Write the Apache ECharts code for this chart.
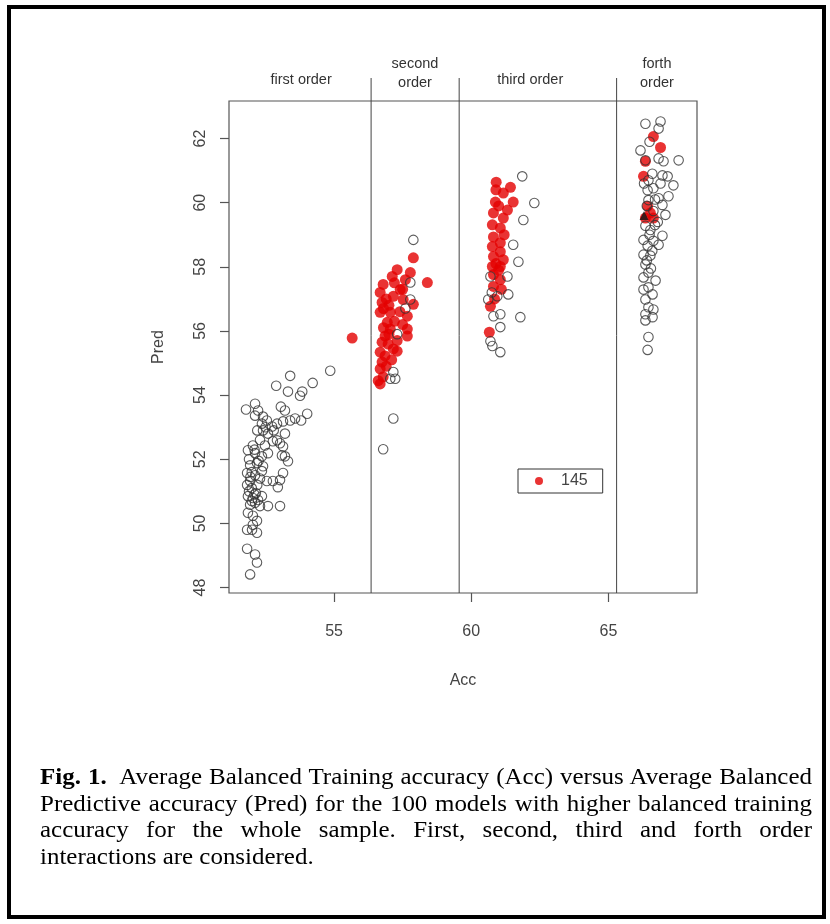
<!DOCTYPE html>
<html>
<head>
<meta charset="utf-8">
<script src="https://cdn.jsdelivr.net/npm/echarts@6/dist/echarts.min.js"></script>
<style>
  html, body { margin: 0; padding: 0; background: #fff; }
  #wrap { position: relative; width: 830px; height: 924px; }
  #chart { position: absolute; left: 0; top: 0; width: 830px; height: 924px; }
  #caption {
    position: absolute; left: 40px; top: 763px; width: 772px;
    font-family: "Liberation Serif", "Times New Roman", serif;
    font-size: 24px; line-height: 26.7px; color: #000;
    transform-origin: 0 0;
  }
  #caption div { text-align: justify; text-align-last: justify; white-space: nowrap; }
  #caption div.last { text-align-last: left; }
  #probe { position: absolute; visibility: hidden; white-space: nowrap;
    font-family: "Liberation Serif", "Times New Roman", serif; font-size: 24px; }
</style>
</head>
<body>
<div id="wrap">
  <div id="chart"></div>
  <div id="caption">
    <div><b>Fig. 1.</b>&nbsp; Average Balanced Training accuracy (Acc) versus Average Balanced</div>
    <div>Predictive accuracy (Pred) for the 100 models with higher balanced training</div>
    <div>accuracy for the whole sample. First, second, third and forth order</div>
    <div class="last">interactions are considered.</div>
  </div>
  <span id="probe"></span>
</div>
<script>
// Axis ranges and ticks
const accRange = [51.17, 68.23];
const predRange = [47.83, 63.17];
const accTicks = [55, 60, 65];
const predTicks = [48, 50, 52, 54, 56, 58, 60, 62];

// Borders between interaction orders (Acc) and panel headings
const orderBreaks = [56.35, 59.56, 65.3];
const headerAcc = [53.8, 57.95, 62.15, 66.77];
const headerLabels = ['first order', 'second\norder', 'third order', 'forth\norder'];

// Models shown as open circles: [Acc, Pred]
const firstOrder = [
  [54.86,54.76],[53.40,54.60],[52.89,54.29],[53.32,54.11],[54.22,54.38],[53.84,54.11],[53.76,53.98],
  [53.06,53.64],[53.21,53.52],[51.79,53.55],[52.12,53.73],[52.23,53.52],[52.12,53.36],[54.02,53.42],
  [53.80,53.21],[53.58,53.27],[53.40,53.21],[53.14,53.18],[52.92,53.11],[52.41,53.33],[52.55,53.21],
  [52.37,53.11],[52.74,53.02],[52.41,52.90],[52.59,52.80],[53.21,52.80],[52.92,52.59],[52.77,52.56],
  [53.03,52.50],[52.48,52.43],[52.04,52.43],[51.86,52.28],[53.14,52.40],[53.10,52.12],[53.21,52.09],
  [53.32,51.94],[52.12,52.19],[52.37,52.09],[52.59,52.19],[51.94,51.81],[52.19,51.88],[52.41,51.78],
  [51.83,51.57],[52.12,51.50],[52.37,51.63],[53.14,51.57],[53.03,51.35],[52.77,51.32],[52.55,51.32],
  [51.94,51.32],[51.83,51.20],[52.95,51.13],[51.86,50.85],[52.04,50.79],[52.23,50.73],[52.37,50.85],
  [51.94,50.58],[52.12,50.64],[52.30,50.54],[52.59,50.54],[53.03,50.54],[51.86,50.33],[52.04,50.24],
  [52.04,49.96],[52.19,50.08],[51.83,49.80],[52.01,49.80],[52.19,49.71],[51.83,49.21],[52.12,49.03],
  [52.19,48.78],[51.94,48.41],[51.90,51.00],[52.00,51.10],[52.10,50.90],[52.20,51.20],[52.00,51.60],
  [52.30,51.40],[51.90,52.00],[52.10,52.30],[52.30,52.60],[52.20,52.90],[52.50,53.00],[52.80,52.90],
  [52.00,50.70],[52.15,50.95],[51.95,51.45],[52.25,51.95]
];
const secondOrder = [
  [57.89,58.84],[57.78,57.51],[57.78,56.98],[57.16,54.72],[57.23,54.51],[57.05,54.51],[57.16,53.27],
  [56.79,52.31],[57.60,56.70],[57.30,55.90]
];
const thirdOrder = [
  [61.86,60.82],[62.30,59.99],[61.90,59.46],[61.53,58.69],[61.72,58.16],[61.32,57.70],[61.35,57.14],
  [61.06,56.52],[61.79,56.43],[61.06,56.12],[60.70,55.68],[61.06,55.34],[60.77,55.53],[60.62,56.98],
  [60.95,57.08],[60.81,56.46],[60.70,57.70],[60.75,57.20]
];
const fourthOrder = [
  [66.35,62.46],[66.90,62.53],[66.83,62.31],[66.17,61.63],[66.83,61.38],[67.01,61.29],[67.56,61.32],
  [66.35,61.32],[66.97,60.85],[67.16,60.82],[66.46,60.70],[67.37,60.54],[66.64,60.45],[66.43,60.39],
  [67.19,60.20],[66.83,60.14],[66.97,59.93],[66.46,60.08],[67.08,59.62],[66.64,59.74],[66.35,59.28],
  [66.53,59.15],[66.97,58.97],[66.28,58.84],[66.64,58.81],[66.43,58.66],[66.83,58.69],[66.28,58.38],
  [66.53,58.35],[66.35,58.07],[66.46,57.82],[66.28,57.67],[66.72,57.57],[66.46,57.36],[66.28,57.29],
  [66.61,57.14],[66.35,56.98],[66.46,56.74],[66.64,56.67],[66.35,56.52],[66.61,56.43],[66.35,56.33],
  [66.46,55.81],[66.43,55.41],[66.50,61.90],[66.60,60.90],[66.40,59.90],[66.70,60.10],[66.50,59.00],
  [66.60,58.50],[66.40,58.20],[66.55,57.95],[66.70,59.30],[66.90,60.60],[66.30,60.60],[66.80,59.40]
];

// Models containing interaction 145: [Acc, Pred]
const secondOrder145 = [
  [57.89,58.28],[58.40,57.51],[57.78,57.82],[57.30,57.91],[57.12,57.70],[56.79,57.45],[56.68,57.20],
  [57.41,57.29],[57.16,57.08],[57.52,56.98],[57.89,56.83],[56.75,56.89],[56.68,56.58],[57.05,56.58],
  [57.67,56.46],[56.94,56.27],[57.67,56.06],[57.67,55.84],[56.86,55.84],[57.05,56.06],[56.75,55.65],
  [56.97,55.59],[57.16,55.44],[56.68,55.34],[56.86,55.22],[57.30,55.37],[56.75,55.03],[56.68,54.82],
  [56.79,54.57],[56.61,54.45],[56.68,54.35],[55.66,55.78],[56.90,57.00],[57.00,56.80],[57.20,56.30],
  [57.40,56.60],[57.50,57.30],[57.00,55.90],[56.80,56.10],[57.30,55.70],[56.90,54.90],[57.10,55.10],
  [57.60,57.60],[57.20,57.50],[56.80,56.70],[57.50,56.20]
];
const thirdOrder145 = [
  [60.91,60.64],[61.43,60.48],[61.17,60.30],[60.88,60.02],[61.53,60.02],[61.32,59.77],[60.81,59.68],
  [61.17,59.52],[60.77,59.31],[61.06,59.21],[60.81,58.93],[61.06,58.75],[60.77,58.63],[61.06,58.47],
  [60.81,58.32],[61.17,58.22],[60.77,58.01],[61.06,58.01],[60.81,57.76],[61.06,57.60],[60.81,57.39],
  [60.70,56.77],[60.66,55.96],[60.90,60.40],[61.00,59.90],[61.20,59.00],[60.90,58.10],[61.00,57.90],
  [60.85,57.00],[61.10,57.30]
];
const fourthOrder145 = [
  [66.64,62.06],[66.90,61.72],[66.35,61.29],[66.28,60.82],[66.43,59.89],[66.53,59.68],[66.64,59.52],
  [66.35,59.52]
];
// Highlighted single model
const markedModel = [[66.30, 59.60]];

// Caption: scale the serif text horizontally so the first line fills the column
(function fitCaption() {
  const cap = document.getElementById('caption');
  const probe = document.getElementById('probe');
  probe.innerHTML = cap.querySelector('div').innerHTML;
  const w = probe.getBoundingClientRect().width;
  if (w > 0) {
    const s = 764 / w;
    cap.style.width = (772 / s).toFixed(2) + 'px';
    cap.style.transform = 'scaleX(' + s.toFixed(4) + ')';
  }
  probe.innerHTML = '';
})();

const labelFont = '"Liberation Sans", Arial, Helvetica, sans-serif';
const chart = echarts.init(document.getElementById('chart'), null, { renderer: 'canvas' });

chart.setOption({
  animation: false,
  backgroundColor: '#fff',
  graphic: [{
    type: 'rect', z: 100, silent: true,
    shape: { x: 9, y: 7, width: 815, height: 910 },
    style: { fill: 'none', stroke: '#000', lineWidth: 4 }
  }],
  grid: {
    left: 229, top: 101, width: 468, height: 492,
    show: true, borderColor: '#555', borderWidth: 1.2, backgroundColor: 'transparent'
  },
  legend: {
    data: ['145'],
    left: 518, top: 469,
    icon: 'circle', itemWidth: 34, itemHeight: 8, itemGap: 0,
    padding: [4, 15, 4, 17],
    borderColor: '#333', borderWidth: 1,
    textStyle: { fontFamily: labelFont, fontSize: 16, color: '#444' }
  },
  xAxis: {
    type: 'value', min: accRange[0], max: accRange[1],
    name: 'Acc', nameLocation: 'middle', nameGap: 80,
    nameTextStyle: { fontFamily: labelFont, fontSize: 16, color: '#444' },
    axisLine: { show: false },
    axisTick: { show: true, length: 9, customValues: accTicks, lineStyle: { color: '#555', width: 1.2 } },
    axisLabel: { customValues: accTicks, margin: 31, fontFamily: labelFont, fontSize: 16, color: '#444' },
    splitLine: { show: false }
  },
  yAxis: {
    type: 'value', min: predRange[0], max: predRange[1],
    name: 'Pred', nameLocation: 'middle', nameGap: 62, nameRotate: 90,
    nameTextStyle: { fontFamily: labelFont, fontSize: 16, color: '#444' },
    axisLine: { show: false },
    axisTick: { show: true, length: 9, customValues: predTicks, lineStyle: { color: '#555', width: 1.2 } },
    axisLabel: { customValues: predTicks, rotate: 90, margin: 20, fontFamily: labelFont, fontSize: 16, color: '#444' },
    splitLine: { show: false }
  },
  series: [
    {
      name: 'order borders', type: 'custom', silent: true, clip: false, z: 1,
      data: orderBreaks.map(v => [v, predRange[0]]),
      encode: { x: 0, y: 1 },
      renderItem: function (params, api) {
        const x = api.value(0);
        const bottom = api.coord([x, predRange[0]]);
        const top = api.coord([x, predRange[1]]);
        return {
          type: 'line',
          shape: { x1: bottom[0], y1: bottom[1], x2: top[0], y2: top[1] - 23 },
          style: { stroke: '#444', lineWidth: 1 }
        };
      }
    },
    {
      name: 'order headings', type: 'custom', silent: true, clip: false, z: 1,
      data: headerAcc.map((v, i) => [v, predRange[1], i]),
      encode: { x: 0, y: 1 },
      renderItem: function (params, api) {
        const p = api.coord([api.value(0), api.value(1)]);
        const text = headerLabels[api.value(2)];
        const twoLines = text.indexOf('\n') >= 0;
        return {
          type: 'text',
          x: p[0], y: twoLines ? p[1] - 9 : p[1] - 21,
          style: {
            text: text, fill: '#333',
            font: '14.5px ' + labelFont,
            align: 'center', verticalAlign: twoLines ? 'bottom' : 'middle',
            lineHeight: 19
          }
        };
      }
    },
    {
      name: '145', type: 'scatter', z: 2, symbol: 'circle', symbolSize: 11,
      itemStyle: { color: '#e30000' },
      data: secondOrder145.concat(thirdOrder145, fourthOrder145)
    },
    {
      name: 'models', type: 'scatter', z: 3, symbol: 'circle', symbolSize: 9.5,
      itemStyle: { color: 'rgba(0,0,0,0)', borderColor: '#333', borderWidth: 1.1 },
      data: firstOrder.concat(secondOrder, thirdOrder, fourthOrder)
    },
    {
      name: 'marked', type: 'scatter', z: 4, symbol: 'triangle', symbolSize: 9,
      itemStyle: { color: '#111' },
      data: markedModel
    }
  ]
});
</script>
</body>
</html>
